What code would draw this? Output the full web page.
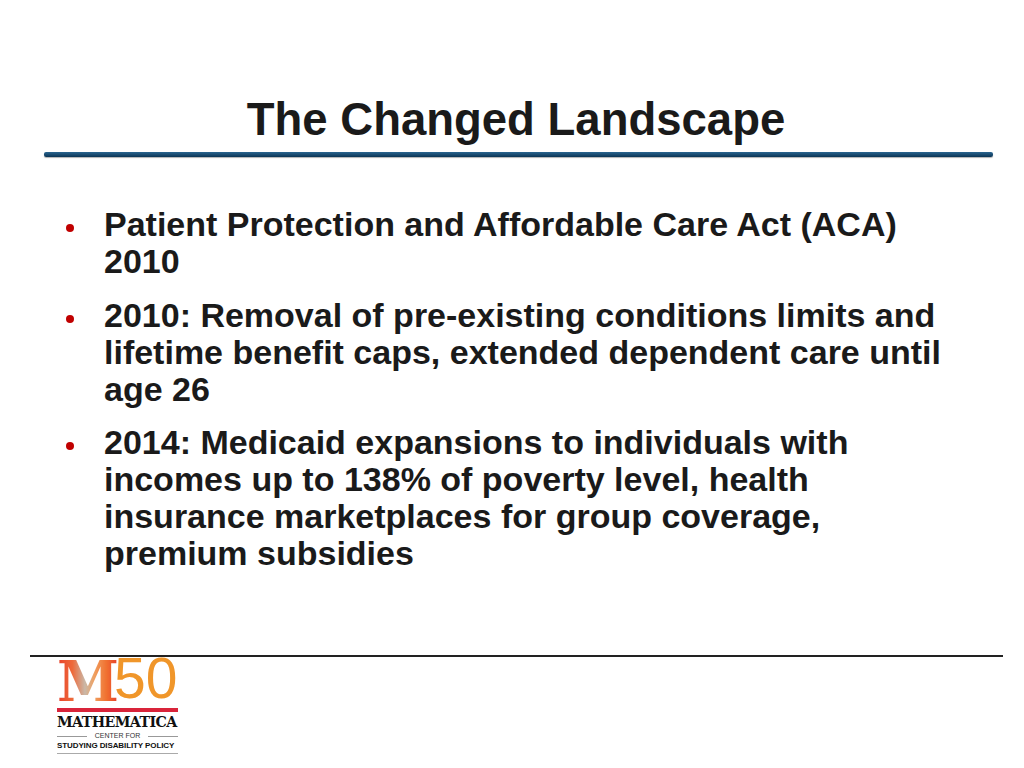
<!DOCTYPE html>
<html><head><meta charset="utf-8">
<script src="https://cdn.jsdelivr.net/npm/chart.js@4/dist/chart.umd.min.js"></script>
<style>
html,body{margin:0;padding:0;background:#fff;}
#slide{position:relative;width:1024px;height:768px;overflow:hidden;font-family:"Liberation Sans",Arial,sans-serif;}
#title{position:absolute;left:0;width:1032px;top:95px;text-align:center;font-weight:bold;font-size:45.5px;line-height:50px;color:#1a1a1a;white-space:nowrap;}
#rule{position:absolute;left:44px;width:949px;top:152px;height:5px;background:linear-gradient(#2a6590,#0b3555);border-radius:2px;box-shadow:0 1px 1px rgba(0,0,0,0.3);}
#bullets{position:absolute;left:104px;top:206px;width:900px;font-weight:bold;font-size:34px;line-height:37px;color:#1a1a1a;margin:0;padding:0;list-style:none;white-space:nowrap;}
#bullets li{position:relative;margin-bottom:16.5px;}
#bullets li:before{content:"";position:absolute;left-: 0;left:-38px;top:18px;width:8px;height:8px;border-radius:50%;background:#c00000;}
#bottomrule{position:absolute;left:30px;width:973px;top:655px;height:2px;background:#222;}
.lg{position:absolute;white-space:nowrap;}
#mm{left:57px;top:646px;font-family:"DejaVu Serif",serif;font-weight:bold;font-size:56px;line-height:70px;
 background:linear-gradient(90deg,#e8402a 0%,#ee6a3a 25%,#c9b8a8 45%,#f0a060 60%,#f07030 80%,#e63a2a 100%);
 -webkit-background-clip:text;background-clip:text;color:transparent;transform-origin:0 0;}
#n50{left:114px;top:643px;font-size:57px;line-height:70px;color:#f0962a;}
#redbar{left:57px;top:708px;width:121px;height:4px;background:#d9243a;}
#math{left:57px;top:714px;font-family:"DejaVu Serif",serif;font-weight:bold;font-size:14.2px;line-height:16px;letter-spacing:-0.6px;color:#111;}
#cline1{left:57px;top:736px;width:30px;height:1px;background:#999;}
#cline2{left:148px;top:736px;width:30px;height:1px;background:#999;}
#center{left:57px;width:121px;top:731px;text-align:center;font-size:7px;line-height:10px;color:#333;}
#studying{left:57px;top:741px;font-size:8px;font-weight:bold;color:#111;line-height:10px;letter-spacing:-0.1px;}
#gray{left:57px;top:753px;width:121px;height:1px;background:#aaa;}
</style></head>
<body>
<div id="slide">
<div id="title"></div>
<div id="rule"></div>
<ul id="bullets"></ul>
<div id="bottomrule"></div>
<div class="lg" id="mm">M</div>
<div class="lg" id="n50">50</div>
<div class="lg" id="redbar"></div>
<div class="lg" id="math">MATHEMATICA</div>
<div class="lg" id="cline1"></div>
<div class="lg" id="cline2"></div>
<div class="lg" id="center">CENTER FOR</div>
<div class="lg" id="studying">STUDYING DISABILITY POLICY</div>
<div class="lg" id="gray"></div>
</div>
<script>
const slideTitle = "The Changed Landscape";
const bulletLines = [
  ["Patient Protection and Affordable Care Act (ACA)", "2010"],
  ["2010: Removal of pre-existing conditions limits and", "lifetime benefit caps, extended dependent care until", "age 26"],
  ["2014: Medicaid expansions to individuals with", "incomes up to 138% of poverty level, health", "insurance marketplaces for group coverage,", "premium subsidies"]
];
document.getElementById('title').textContent = slideTitle;
const ul = document.getElementById('bullets');
bulletLines.forEach(lines => {
  const li = document.createElement('li');
  lines.forEach((t, i) => {
    if (i) li.appendChild(document.createElement('br'));
    li.appendChild(document.createTextNode(t));
  });
  ul.appendChild(li);
});
</script>
</body></html>
